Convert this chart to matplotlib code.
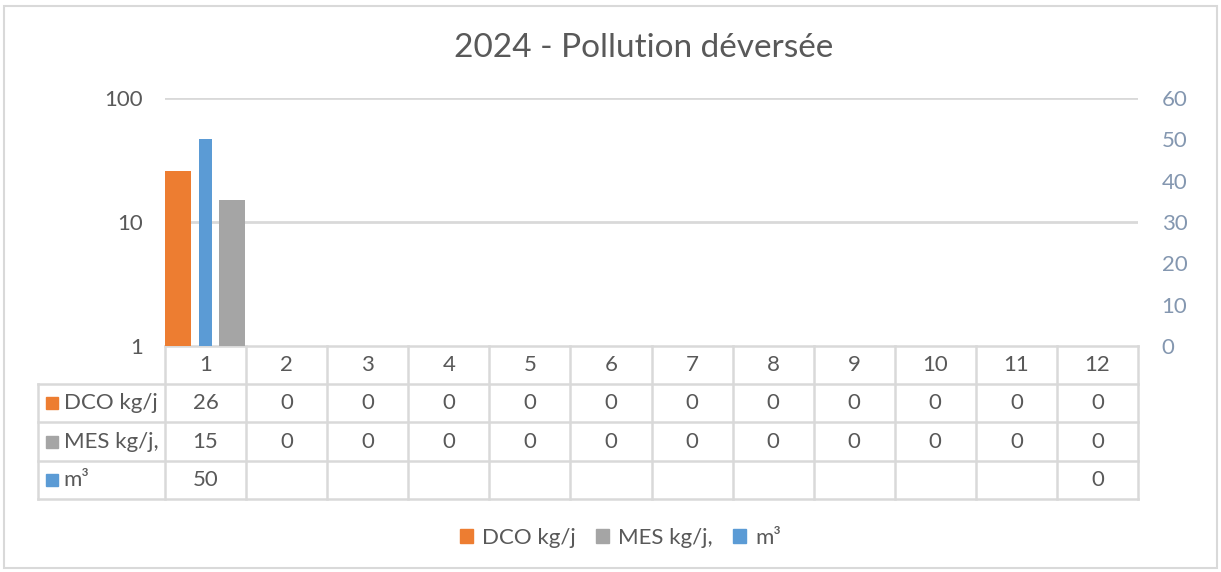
import numpy as np
import matplotlib
matplotlib.use("Agg")
import matplotlib.pyplot as plt
from matplotlib.patches import Patch, Rectangle
from matplotlib.lines import Line2D
from matplotlib.transforms import blended_transform_factory

plt.rcParams['font.family'] = ['Lato', 'DejaVu Sans']

# data
months = list(range(1, 13))
dco = [26, 0, 0, 0, 0, 0, 0, 0, 0, 0, 0, 0]
mes = [15, 0, 0, 0, 0, 0, 0, 0, 0, 0, 0, 0]
m3 = [50] + [np.nan] * 10 + [0]
series_names = ["DCO kg/j", "MES kg/j,", "m³"]
title = "2024 - Pollution déversée"

C_DCO = "#ED7D31"
C_MES = "#A5A5A5"
C_M3 = "#5B9BD5"
GRID = "#D9D9D9"
TXT = "#595959"
RIGHT = "#8497B0"
FS = 16

W, H = 1221, 572
fig = plt.figure(figsize=(W / 100, H / 100), dpi=100)
fig.patches.append(Rectangle((4 / W, 4 / H), (W - 8) / W, (H - 10) / H,
                             transform=fig.transFigure, fill=False,
                             edgecolor=GRID, lw=1.5))

x0, x1, ytop, ybot = 165, 1138, 98, 346
ax = fig.add_axes([x0 / W, 1 - ybot / H, (x1 - x0) / W, (ybot - ytop) / H])
x = np.array(months, dtype=float)

ax.bar(x - 0.34, dco, width=0.32, color=C_DCO, zorder=3)
ax.bar(x + 0.325, mes, width=0.33, color=C_MES, zorder=3)
ax.set_yscale('log')
ax.set_ylim(1, 100)
ax.set_xlim(0.5, 12.5)
ax.set_yticks([1, 10, 100])
ax.set_yticklabels(["1", "10", "100"])
ax.yaxis.set_minor_locator(matplotlib.ticker.NullLocator())
ax.set_xticks([])
for yv in [10, 100]:
    ax.axhline(yv, color=GRID, lw=2, zorder=1)
ax.tick_params(axis='y', length=0, pad=16, labelsize=FS, labelcolor=TXT)

ax2 = ax.twinx()
ax2.bar(x, m3, width=0.17, color=C_M3, zorder=3)
ax2.set_ylim(0, 60)
ax2.set_yticks(range(0, 61, 10))
ax2.tick_params(axis='y', length=0, pad=17, labelsize=FS, labelcolor=RIGHT)
for a in (ax, ax2):
    for s in a.spines.values():
        s.set_visible(False)

fig.text(0.527, 1 - 48 / H, title, ha='center', va='center', fontsize=24, color=TXT)

# data table under the plot
ph = ybot - ytop
rows_px = [346, 384, 422, 461, 499]
rows = [-(r - ybot) / ph for r in rows_px]
bt = blended_transform_factory(ax.transData, ax.transAxes)
hdr_left = -(x0 - 38) / (x1 - x0)
kw = dict(color=GRID, lw=1.8, clip_on=False)

ax.add_line(Line2D([0.5, 12.5], [rows[0], rows[0]], transform=bt, **kw))
for r in rows[1:]:
    ax.add_line(Line2D([hdr_left, 1], [r, r], transform=ax.transAxes, **kw))
for b in np.arange(0.5, 13.0, 1.0):
    ax.add_line(Line2D([b, b], [rows[0], rows[-1]], transform=bt, **kw))
ax.add_line(Line2D([hdr_left, hdr_left], [rows[1], rows[-1]], transform=ax.transAxes, **kw))

for m in months:
    ax.text(m, (rows[0] + rows[1]) / 2, str(m), transform=bt, ha='center',
            va='center', fontsize=FS, color=TXT)

table_rows = [(series_names[0], dco, C_DCO), (series_names[1], mes, C_MES),
              (series_names[2], m3, C_M3)]
for i, (name, vals, col) in enumerate(table_rows):
    yc = (rows[i + 1] + rows[i + 2]) / 2
    ax.plot([hdr_left + 0.0145], [yc], marker='s', ms=8, color=col,
            transform=ax.transAxes, clip_on=False)
    ax.text(hdr_left + 0.0265, yc, name, transform=ax.transAxes, ha='left',
            va='center', fontsize=FS, color=TXT)
    for m, v in zip(months, vals):
        if not np.isnan(v):
            ax.text(m, yc, f"{v:g}", transform=bt, ha='center', va='center',
                    fontsize=FS, color=TXT)

handles = [Patch(color=C_DCO), Patch(color=C_MES), Patch(color=C_M3)]
fig.legend(handles, series_names, loc='center', bbox_to_anchor=(0.508, 1 - 538 / H),
           ncol=3, frameon=False, fontsize=FS, labelcolor=TXT,
           handlelength=0.6, handleheight=0.6, handletextpad=0.4, columnspacing=0.9)

fig.savefig("out.png", dpi=100, facecolor='white')
